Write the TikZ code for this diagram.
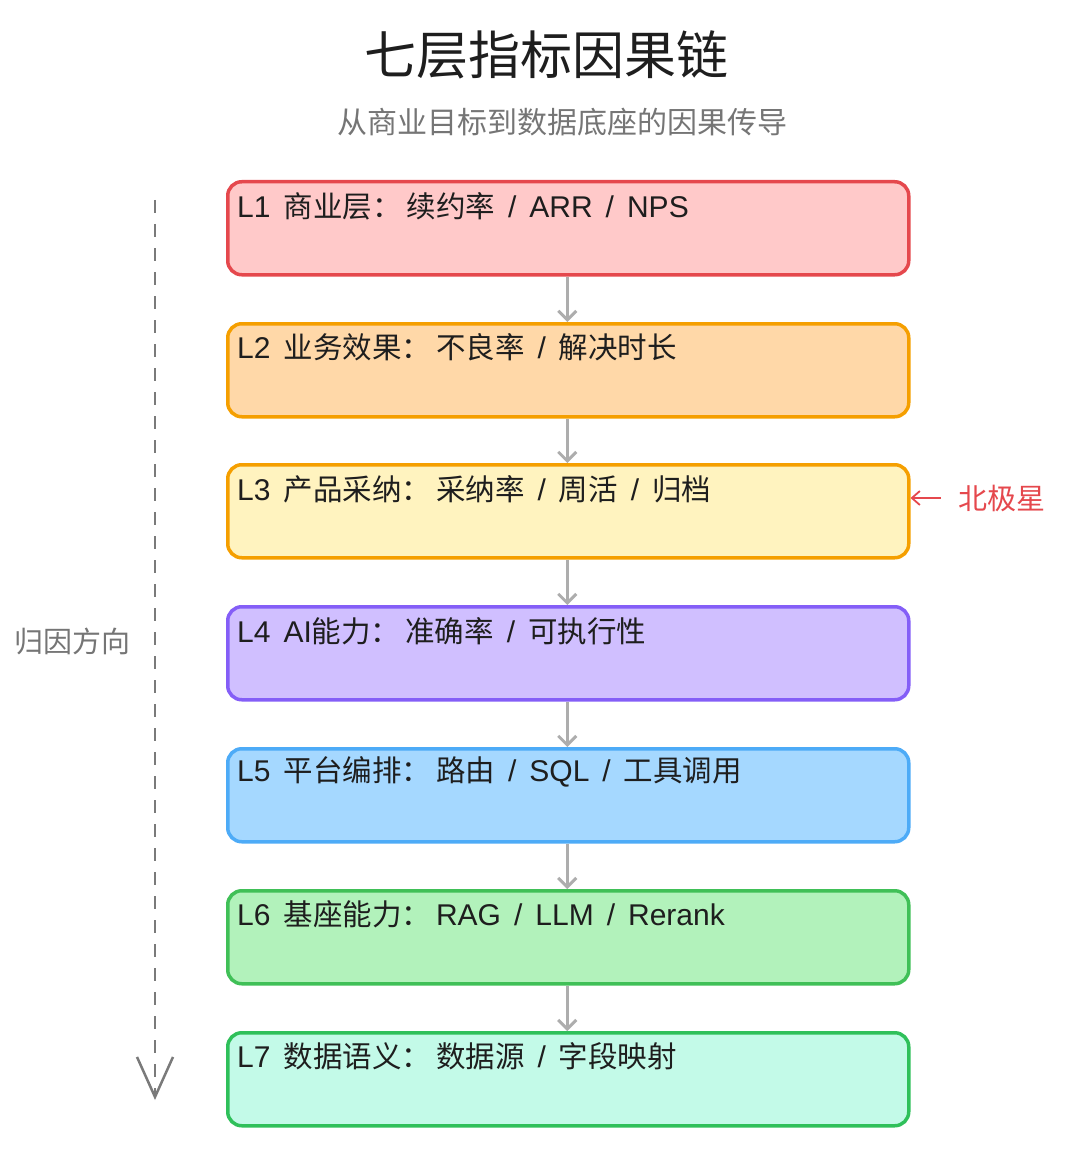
\documentclass[tikz,border=0pt]{standalone}
\usepackage{fontspec}
\setmainfont{Noto Sans CJK SC}
\newfontfamily\latf{Liberation Sans}
\usetikzlibrary{arrows.meta}
\definecolor{ink}{HTML}{1E1E1E}
\definecolor{sub}{HTML}{757575}
\definecolor{flowc}{HTML}{ADADAD}
\definecolor{dirc}{HTML}{7A7A7A}
\definecolor{redS}{HTML}{E5484D}\definecolor{redF}{HTML}{FFC9C9}
\definecolor{orS}{HTML}{F59F00}\definecolor{orF}{HTML}{FFD8A8}
\definecolor{yeS}{HTML}{F59F00}\definecolor{yeF}{HTML}{FFF3BF}
\definecolor{puS}{HTML}{845EF7}\definecolor{puF}{HTML}{D0BFFF}
\definecolor{blS}{HTML}{4DABF7}\definecolor{blF}{HTML}{A5D8FF}
\definecolor{gnS}{HTML}{40C057}\definecolor{gnF}{HTML}{B2F2BB}
\definecolor{mnS}{HTML}{2FC05A}\definecolor{mnF}{HTML}{C3FAE8}
\definecolor{starc}{HTML}{E5484D}
\newcommand\lyrfont{\fontsize{29.5}{32}\selectfont\spaceskip=13pt plus 0pt minus 0pt\relax}
\newcommand\lt[1]{{\latf\fontsize{30}{32}\selectfont #1}}
\newcommand\cln{：\hspace{5pt}}
\newcommand\sls{ \lt{/} }
\tikzset{
  layerbox/.style={draw, line width=3.5pt, rounded corners=14pt, minimum width=681pt, minimum height=93pt, inner sep=0pt, anchor=north west},
  layertext/.style={anchor=west, inner sep=0pt, text=ink, font=\lyrfont},
  flow/.style={draw=flowc, line width=3pt, -{Straight Barb[length=9pt,width=18pt,line width=3pt]}},
}
\begin{document}
\begin{tikzpicture}[x=1pt,y=-1pt]
\useasboundingbox (0,0) rectangle (1080,1166);
\node[text=ink, font=\fontsize{52}{56}\selectfont] (title) at (546,55) {七层指标因果链};
\node[text=sub, font=\fontsize{30}{34}\selectfont] (subtitle) at (562,122) {从商业目标到数据底座的因果传导};

\node[layerbox, draw=redS, fill=redF] (L1) at (226,180) {};
\node[layerbox, draw=orS, fill=orF] (L2) at (226,322) {};
\node[layerbox, draw=yeS, fill=yeF] (L3) at (226,463) {};
\node[layerbox, draw=puS, fill=puF] (L4) at (226,605) {};
\node[layerbox, draw=blS, fill=blF] (L5) at (226,747) {};
\node[layerbox, draw=gnS, fill=gnF] (L6) at (226,889) {};
\node[layerbox, draw=mnS, fill=mnF] (L7) at (226,1031) {};

\node[layertext] (T1) at (237,206) {\lt{L1} 商业层\cln 续约率\sls\lt{ARR}\sls\lt{NPS}};
\node[layertext] (T2) at (237,347) {\lt{L2} 业务效果\cln 不良率\sls 解决时长};
\node[layertext] (T3) at (237,489) {\lt{L3} 产品采纳\cln 采纳率\sls 周活\sls 归档};
\node[layertext] (T4) at (237,631) {\lt{L4} \lt{AI}能力\cln 准确率\sls 可执行性};
\node[layertext] (T5) at (237,772) {\lt{L5} 平台编排\cln 路由\sls\lt{SQL}\sls 工具调用};
\node[layertext] (T6) at (237,914) {\lt{L6} 基座能力\cln\lt{RAG}\sls\lt{LLM}\sls\lt{Rerank}};
\node[layertext] (T7) at (237,1056) {\lt{L7} 数据语义\cln 数据源\sls 字段映射};

\foreach \a/\b in {L1/L2,L2/L3,L3/L4,L4/L5,L5/L6,L6/L7}{
  \draw[flow] ([xshift=-1pt]\a.south) -- ([xshift=-1pt]\b.north);
}

\coordinate (dirTop) at (155,200);
\coordinate (dirEnd) at (155,1100);
\draw[dirc, line width=2.5pt, dash pattern=on 13pt off 11pt, -{Straight Barb[length=40pt,width=36pt,line width=2.5pt]}] (dirTop) -- (dirEnd);
\node[text=sub, font=\fontsize{29}{32}\selectfont] (dirlabel) at (72,641) {归因方向};

\node[text=starc, font=\fontsize{29}{32}\selectfont] (star) at (1002,498) {北极星};
\draw[starc, line width=1.8pt, -{Straight Barb[length=8pt,width=14pt,line width=1.8pt]}] (star.west) ++(-14pt,0) -- (L3.east |- star.west);
\end{tikzpicture}
\end{document}
